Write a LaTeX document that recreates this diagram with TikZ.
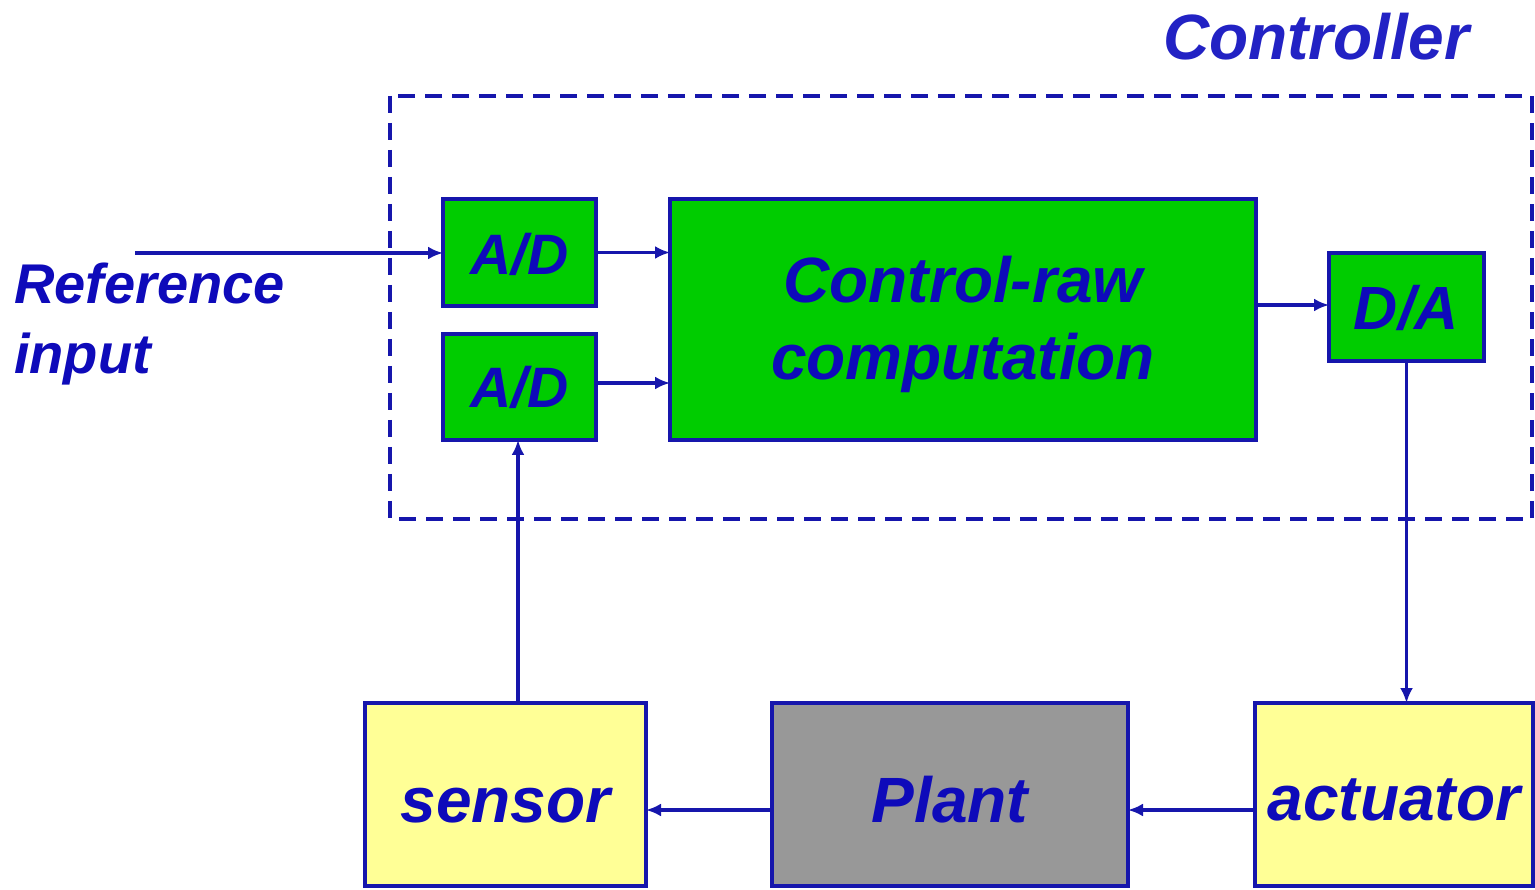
\documentclass[tikz,border=0pt]{standalone}
\usepackage{fontspec}
\setmainfont{Liberation Sans}
\usetikzlibrary{arrows.meta}
\definecolor{bline}{RGB}{22,22,172}
\definecolor{btext}{RGB}{14,10,186}
\definecolor{ctext}{RGB}{34,34,196}
\definecolor{gfill}{RGB}{0,204,0}
\definecolor{yfill}{RGB}{255,255,150}
\definecolor{pfill}{RGB}{152,152,152}
\tikzset{
  blk/.style={draw=bline, line width=4.2pt, inner sep=0pt, outer sep=0pt, text=btext,
     font=\bfseries\itshape\fontsize{64}{77}\selectfont, align=center},
  blktext/.style={text=btext, font=\bfseries\itshape\fontsize{64}{77}\selectfont, align=center, inner sep=0pt},
  conn/.style={draw=bline, line width=3.4pt, -{Latex[length=15pt,width=13pt]}}
}
\begin{document}
\begin{tikzpicture}[x=1pt,y=-1pt]
\useasboundingbox (0,0) rectangle (1535,890);
\fill[white] (0,0) rectangle (1535,890);
% controller dashed box
\draw[bline, line width=3.8pt, dash pattern=on 17pt off 10pt] (390,96) rectangle (1532,519);
\node[anchor=base west, text=ctext, font=\bfseries\itshape\fontsize{64}{77}\selectfont, inner sep=0pt] (ctl) at (1163,60) {Controller};
% blocks
\node[blk, fill=gfill, minimum width=153pt, minimum height=107pt, text height=45pt, text depth=0pt, font=\bfseries\itshape\fontsize{57}{68}\selectfont] (ad1) at (519.5,252.5) {A/D};
\node[blk, fill=gfill, minimum width=153pt, minimum height=106pt, text height=42pt, text depth=0pt, font=\bfseries\itshape\fontsize{57}{68}\selectfont] (ad2) at (519.5,387) {A/D};
\node[blk, fill=gfill, minimum width=586pt, minimum height=241pt] (comp) at (963,319.5) {};
\node[blktext] (comptext) at ([yshift=-5pt]comp.center) {Control-raw\\computation};
\node[blk, fill=gfill, minimum width=155pt, minimum height=108pt, text height=46pt, text depth=0pt, font=\bfseries\itshape\fontsize{61}{73}\selectfont] (da) at (1406.5,307) {D/A};
\node[blk, fill=yfill, minimum width=281pt, minimum height=183pt, text height=55pt, text depth=0pt] (sensor) at (505.5,794.5) {sensor};
\node[blk, fill=pfill, minimum width=356pt, minimum height=183pt, text height=55pt, text depth=0pt] (plant) at (950,794.5) {Plant};
\node[blk, fill=yfill, minimum width=278pt, minimum height=183pt, text height=52pt, text depth=0pt] (act) at (1394,794.5) {actuator};
% reference input
\node[anchor=north west, text=btext, font=\bfseries\itshape\fontsize{56}{70}\selectfont, align=left, inner sep=0pt] (ref) at (14,263) {Reference\\input};
\coordinate (refstart) at (135,253);
% connectors
\draw[conn] (refstart) -- (ad1.west |- refstart);
\draw[conn] (ad1.east) -- (comp.west |- ad1.east);
\draw[conn] (ad2.east |- 0,383) -- (comp.west |- 0,383);
\draw[conn] (comp.east |- 0,305) -- (da.west |- 0,305);
\draw[conn] (da.south) -- (act.north -| da.south);
\draw[conn] (act.west |- 0,810) -- (plant.east |- 0,810);
\draw[conn] (plant.west |- 0,810) -- (sensor.east |- 0,810);
\draw[conn] (sensor.north -| 518,0) -- (ad2.south -| 518,0);
\end{tikzpicture}
\end{document}
